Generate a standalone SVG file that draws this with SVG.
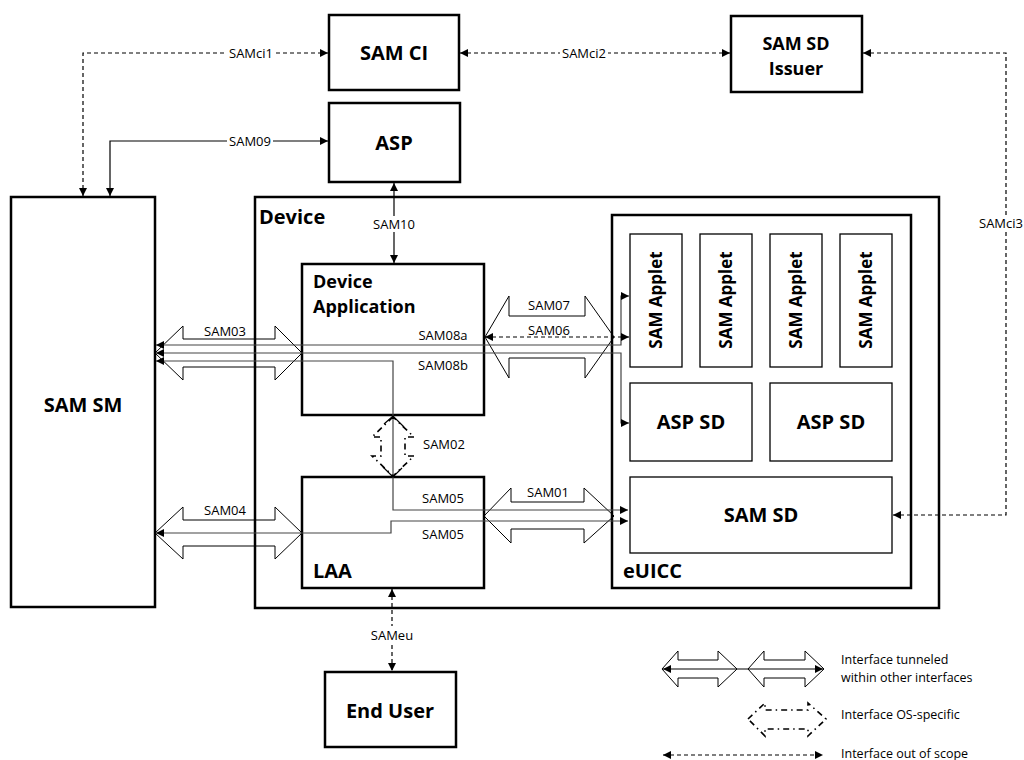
<svg xmlns="http://www.w3.org/2000/svg" width="1024" height="760" viewBox="0 0 1024 760">
<style>
.box{fill:#fff;stroke:#000;stroke-width:2.5}
.frame{fill:none;stroke:#000;stroke-width:2.5}
.ibox{fill:#fff;stroke:#000;stroke-width:1.3}
.t{font-family:"Open Sans","Noto Sans","Liberation Sans",sans-serif;font-weight:bold;font-size:20px;fill:#000}
.t2{font-family:"Open Sans","Noto Sans","Liberation Sans",sans-serif;font-weight:bold;font-size:18px;fill:#000}
.ta{font-family:"Open Sans","Noto Sans","Liberation Sans",sans-serif;font-weight:bold;font-size:17px;fill:#000}
.lb{font-family:"Open Sans","Noto Sans","Liberation Sans",sans-serif;font-size:13px;fill:#000}
.lg{font-family:"Open Sans","Noto Sans","Liberation Sans",sans-serif;font-size:12.5px;fill:#000}
.c{text-anchor:middle}
.solid{fill:none;stroke:#000;stroke-width:1.2}
.inner{fill:none;stroke:#444;stroke-width:1.2}
.dash{fill:none;stroke:#000;stroke-width:1.2;stroke-dasharray:4 3}
.block{fill:none;stroke:#000;stroke-width:1}
.os{fill:none;stroke:#000;stroke-width:1.6;stroke-dasharray:6 4 1.5 4}
.bg{fill:#fff}
</style>
<defs>
<marker id="ah" viewBox="0 0 10 10" refX="10" refY="5" markerWidth="9" markerHeight="8" markerUnits="userSpaceOnUse" orient="auto-start-reverse">
<path d="M0,0 L10,5 L0,10 z" fill="#000"/>
</marker>
</defs>

<g id="device">
<rect class="frame" x="255" y="197" width="684" height="411"/>
<text class="t" x="259" y="224">Device</text>
</g>
<g id="sam-sm">
<rect class="box" x="11" y="197" width="144" height="410"/>
<text class="t c" x="83" y="412">SAM SM</text>
</g>
<g id="sam-ci">
<rect class="box" x="329" y="15" width="130" height="75"/>
<text class="t c" x="394" y="60">SAM CI</text>
</g>
<g id="asp">
<rect class="box" x="329" y="103" width="131" height="79"/>
<text class="t c" x="394" y="150">ASP</text>
</g>
<g id="sam-sd-issuer">
<rect class="box" x="731" y="16" width="131" height="76"/>
<text class="t2 c" x="796" y="50">SAM SD</text>
<text class="t2 c" x="796" y="75">Issuer</text>
</g>
<g id="device-application">
<rect class="box" x="302" y="264" width="182" height="151"/>
<text class="t2" x="313" y="288">Device</text>
<text class="t2" x="313" y="313">Application</text>
</g>
<g id="laa">
<rect class="box" x="302" y="477" width="182" height="111"/>
<text class="t" x="313" y="578">LAA</text>
</g>
<g id="euicc">
<rect class="frame" x="612" y="215" width="299" height="373"/>
<text class="t" x="623" y="578">eUICC</text>
</g>
<g id="sam-applet-1">
<rect class="ibox" x="630" y="234" width="52" height="133"/>
<text class="ta c" transform="translate(662,300) rotate(-90)">SAM Applet</text>
</g>
<g id="sam-applet-2">
<rect class="ibox" x="700" y="234" width="52" height="133"/>
<text class="ta c" transform="translate(732,300) rotate(-90)">SAM Applet</text>
</g>
<g id="sam-applet-3">
<rect class="ibox" x="770" y="234" width="52" height="133"/>
<text class="ta c" transform="translate(802,300) rotate(-90)">SAM Applet</text>
</g>
<g id="sam-applet-4">
<rect class="ibox" x="840" y="234" width="52" height="133"/>
<text class="ta c" transform="translate(872,300) rotate(-90)">SAM Applet</text>
</g>
<g id="asp-sd-1">
<rect class="ibox" x="630" y="383" width="122" height="78"/>
<text class="t c" x="691" y="429">ASP SD</text>
</g>
<g id="asp-sd-2">
<rect class="ibox" x="770" y="383" width="122" height="78"/>
<text class="t c" x="831" y="429">ASP SD</text>
</g>
<g id="sam-sd">
<rect class="ibox" x="630" y="477" width="262" height="76"/>
<text class="t c" x="761" y="522">SAM SD</text>
</g>
<g id="end-user">
<rect class="box" x="325" y="672" width="131" height="75"/>
<text class="t c" x="390" y="718">End User</text>
</g>

<g id="connectors">
<path class="block" d="M155,353 L183,326 L183,339 L275,339 L275,326 L302,353 L275,380 L275,367 L183,367 L183,380 Z"/>
<path class="block" d="M155,533 L183,507 L183,520 L275,520 L275,507 L302,533 L275,559 L275,546 L183,546 L183,559 Z"/>
<path class="block" d="M485,337 L509,296 L509,316 L585,316 L585,296 L614,337 L585,378 L585,358 L509,358 L509,378 Z"/>
<path class="block" d="M484,516 L511,488 L511,502 L584,502 L584,488 L614,516 L584,543 L584,529 L511,529 L511,543 Z"/>

<path class="inner" d="M156,345 H621 V296 H629" marker-start="url(#ah)" marker-end="url(#ah)"/>
<path class="inner" d="M156,353 H621 V423 H629" marker-start="url(#ah)" marker-end="url(#ah)"/>
<path class="inner" d="M156,361 H393 V510 H628" marker-start="url(#ah)" marker-end="url(#ah)"/>
<path class="inner" d="M156,533 H391 V521 H628" marker-start="url(#ah)" marker-end="url(#ah)"/>

<path class="os" d="M393,417 L372,437 L381,437 L381,456 L372,456 L393,476 L414,456 L405,456 L405,437 L414,437 Z"/>
<path class="solid" d="M384,424 L393,416 L404,427 M383,467 L393,477 L402,468" stroke-width="1.6"/>

<path class="dash" d="M485,337 H629" marker-start="url(#ah)" marker-end="url(#ah)"/>
<rect class="bg" x="527" y="324" width="44" height="12"/>

<path class="solid" d="M394,183 V263" marker-start="url(#ah)" marker-end="url(#ah)"/>
<rect class="bg" x="372" y="216" width="44" height="16"/>
<path class="solid" d="M110,196 V141 H328" marker-start="url(#ah)" marker-end="url(#ah)"/>
<rect class="bg" x="227" y="134" width="46" height="14"/>
<path class="dash" d="M83,196 V53 H328" marker-start="url(#ah)" marker-end="url(#ah)"/>
<rect class="bg" x="227" y="46" width="48" height="14"/>
<path class="dash" d="M460,53 H730" marker-start="url(#ah)" marker-end="url(#ah)"/>
<rect class="bg" x="560" y="46" width="48" height="14"/>
<path class="dash" d="M863,53 H1006 V515 H893" marker-start="url(#ah)" marker-end="url(#ah)"/>
<rect class="bg" x="977" y="215" width="47" height="17"/>
<path class="dash" d="M392,589 V671" marker-start="url(#ah)" marker-end="url(#ah)"/>
<rect class="bg" x="369" y="626" width="46" height="17"/>

<text class="lb c" x="251" y="58">SAMci1</text>
<text class="lb c" x="584" y="58">SAMci2</text>
<text class="lb c" x="1001" y="228">SAMci3</text>
<text class="lb c" x="250" y="146">SAM09</text>
<text class="lb c" x="394" y="229">SAM10</text>
<text class="lb c" x="225" y="336">SAM03</text>
<text class="lb c" x="225" y="515">SAM04</text>
<text class="lb c" x="443" y="340">SAM08a</text>
<text class="lb c" x="443" y="370">SAM08b</text>
<text class="lb c" x="549" y="310">SAM07</text>
<text class="lb c" x="549" y="335">SAM06</text>
<text class="lb" x="423" y="449">SAM02</text>
<text class="lb c" x="443" y="503">SAM05</text>
<text class="lb c" x="443" y="539">SAM05</text>
<text class="lb c" x="548" y="497">SAM01</text>
<text class="lb c" x="392" y="640">SAMeu</text>
</g>

<g id="legend">
<path class="block" d="M662,669 L678,651 L678,660 L718,660 L718,651 L737,669 L718,687 L718,678 L678,678 L678,687 Z"/>
<path class="block" d="M748,669 L764,651 L764,660 L805,660 L805,651 L824,669 L805,687 L805,678 L764,678 L764,687 Z"/>
<path class="solid" d="M663,669 H823" marker-start="url(#ah)" marker-end="url(#ah)"/>
<text class="lg" x="841" y="664">Interface tunneled</text>
<text class="lg" x="841" y="682">within other interfaces</text>
<path class="os" d="M748,719 L765,703 L765,710 L808,710 L808,703 L826,719 L808,736 L808,729 L765,729 L765,736 Z"/>
<text class="lg" x="841" y="719">Interface OS-specific</text>
<path class="dash" d="M663,755 H823" marker-start="url(#ah)" marker-end="url(#ah)"/>
<text class="lg" x="841" y="758">Interface out of scope</text>
</g>
</svg>
